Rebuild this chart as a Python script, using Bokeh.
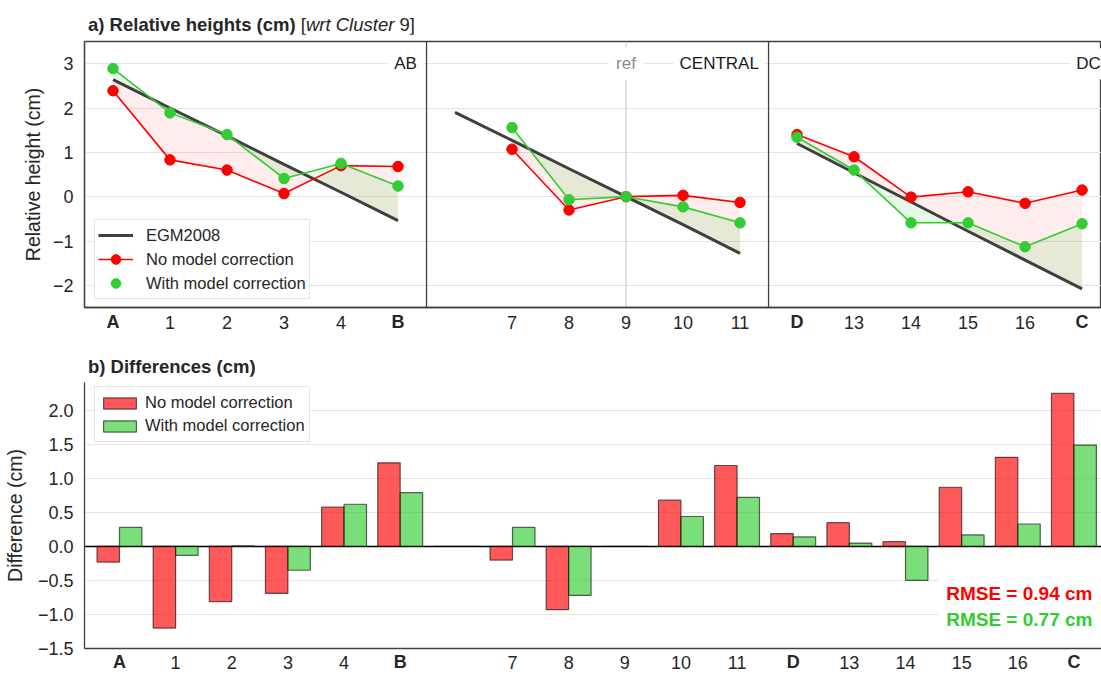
from bokeh.plotting import figure
from bokeh.models import Range1d, FixedTicker, Label, Span, Legend, LegendItem, LinearAxis, Div
from bokeh.layouts import column
from bokeh.embed import file_html
from bokeh.resources import INLINE

FONT = "Liberation Sans"
TXT = "#262626"
RED = "#ff0000"
GREEN = "#32cd32"
EGM_COL = "#3f3f3f"
SPINE = "#404040"
GRID = "#e5e5e5"

# ---------------- data ----------------
tick_labels = ["A", "1", "2", "3", "4", "B", "", "7", "8", "9", "10", "11",
               "D", "13", "14", "15", "16", "C"]

# section AB
ab_x = [0, 1, 2, 3, 4, 5]
egm_ab = [2.64, 2.00, 1.37, 0.73, 0.10, -0.54]
red_ab = [2.39, 0.83, 0.60, 0.07, 0.70, 0.68]
green_ab = [2.89, 1.89, 1.40, 0.41, 0.75, 0.24]

# section CENTRAL
central_egm_x = [6, 7, 8, 9, 10, 11]
egm_central = [1.90, 1.27, 0.63, 0.00, -0.63, -1.28]
central_x = [7, 8, 9, 10, 11]
red_central = [1.07, -0.30, 0.00, 0.03, -0.13]
green_central = [1.56, -0.07, 0.00, -0.23, -0.59]

# section DC
dc_x = [12, 13, 14, 15, 16, 17]
egm_dc = [1.20, 0.54, -0.12, -0.78, -1.43, -2.08]
red_dc = [1.40, 0.90, -0.01, 0.11, -0.15, 0.15]
green_dc = [1.34, 0.60, -0.59, -0.59, -1.13, -0.61]

section_names = ["AB", "CENTRAL", "DC"]
section_ends = [5.5, 11.5, 17.5]
ref_slot = 9

# differences
diff_no_corr = [-0.23, -1.20, -0.81, -0.69, 0.58, 1.23, 0.00, -0.20, -0.93, 0.00,
                0.68, 1.19, 0.19, 0.35, 0.07, 0.87, 1.31, 2.25]
diff_with_corr = [0.28, -0.13, 0.01, -0.35, 0.62, 0.79, 0.00, 0.28, -0.72, 0.00,
                  0.44, 0.72, 0.14, 0.05, -0.50, 0.17, 0.33, 1.49]
rmse_no_corr = 0.94
rmse_with_corr = 0.77

top_yticks = [-2, -1, 0, 1, 2, 3]
bot_yticks = [-1.5, -1.0, -0.5, 0.0, 0.5, 1.0, 1.5, 2.0]

# ---------------- layout constants ----------------
W = 1101
LEFT = 83
FRAME_W = W - LEFT
LABEL_EXTENT = 20  # approx. height of an 18px tick label row


def minus(v, fmt):
    return (fmt % v).replace("-", "\u2212")


def style_common(p):
    p.background_fill_color = "white"
    p.border_fill_color = "white"
    p.xgrid.grid_line_color = None
    p.ygrid.grid_line_color = GRID
    p.ygrid.grid_line_width = 1.2
    for ax in (p.xaxis[0], p.yaxis[0]):
        ax.major_tick_line_color = None
        ax.minor_tick_line_color = None
        ax.major_tick_out = 0
        ax.major_tick_in = 0
        ax.minor_tick_out = 0
        ax.minor_tick_in = 0
        ax.major_label_text_font = FONT
        ax.major_label_text_font_size = "18px"
        ax.major_label_text_color = TXT
        ax.axis_label_text_font = FONT
        ax.axis_label_text_font_size = "19.5px"
        ax.axis_label_text_font_style = "normal"
        ax.axis_label_text_color = TXT
        ax.axis_line_color = SPINE
        ax.axis_line_width = 1.3
    p.yaxis[0].major_label_standoff = 11


def x_axis_labels(p, standoff):
    numeric = {i: lab for i, lab in enumerate(tick_labels) if lab and not lab.isalpha()}
    letters = {i: lab for i, lab in enumerate(tick_labels) if lab.isalpha()}
    p.xaxis[0].ticker = FixedTicker(ticks=list(numeric.keys()))
    p.xaxis[0].major_label_overrides = numeric
    p.xaxis[0].major_label_standoff = standoff
    # second (bold) axis for the end-point letters, pulled back onto the same row
    bold_axis = LinearAxis(ticker=FixedTicker(ticks=list(letters.keys())),
                           major_label_overrides=letters, axis_line_color=None,
                           major_tick_line_color=None, minor_tick_line_color=None,
                           major_tick_out=0, major_tick_in=0, minor_tick_out=0, minor_tick_in=0,
                           major_label_standoff=standoff - (standoff + LABEL_EXTENT),
                           major_label_text_font=FONT,
                           major_label_text_font_size="18px", major_label_text_font_style="bold",
                           major_label_text_color=TXT)
    p.add_layout(bold_axis, "below")


def title_div(html, height, pad_top):
    return Div(text=('<div style="font-family:\'Liberation Sans\',Arial,sans-serif;'
                     'font-size:18.5px;line-height:18.5px;color:#262626;white-space:nowrap;'
                     'padding-left:88px;padding-top:%dpx;">%s</div>' % (pad_top, html)),
               width=W, height=height, margin=0)


# ================= top panel =================
div_a = title_div('<b>a) Relative heights (cm)</b> [<i>wrt Cluster</i> 9]', 34, 16)

top = figure(width=W, height=306, x_range=Range1d(-0.5, -0.5 + FRAME_W / 57.06),
             y_range=Range1d(-2.5, 3.5), output_backend="svg", toolbar_location=None,
             min_border_left=LEFT, min_border_right=0, min_border_top=7, min_border_bottom=33,
             margin=0)
style_common(top)
top.outline_line_color = SPINE
top.outline_line_width = 1.3
top.yaxis[0].ticker = FixedTicker(ticks=top_yticks)
top.yaxis[0].major_label_overrides = {v: minus(v, "%d") for v in top_yticks}
top.yaxis[0].axis_label = "Relative height (cm)"
top.yaxis[0].axis_label_standoff = 6
x_axis_labels(top, 8)

top.add_layout(Span(location=ref_slot, dimension="height", line_color="#c4c4c4", line_width=1,
                    level="underlay"))

sections = [
    (ab_x, egm_ab, ab_x, red_ab, green_ab),
    (central_egm_x, egm_central, central_x, red_central, green_central),
    (dc_x, egm_dc, dc_x, red_dc, green_dc),
]

egm_r = red_l = red_s = green_s = None
for ex, ev, ox, rv, gv in sections:
    lookup = dict(zip(ex, ev))
    ev_at_obs = [lookup[x] for x in ox]
    top.varea(x=ox, y1=ev_at_obs, y2=rv, fill_color=RED, fill_alpha=0.07)
    top.varea(x=ox, y1=ev_at_obs, y2=gv, fill_color=GREEN, fill_alpha=0.12)
    egm_r = top.line(ex, ev, line_color=EGM_COL, line_width=3)
    red_l = top.line(ox, rv, line_color=RED, line_width=1.6)
    red_s = top.scatter(ox, rv, size=10.5, fill_color=RED, line_color=RED)
    top.line(ox, gv, line_color=GREEN, line_width=1.6)
    green_s = top.scatter(ox, gv, size=10.5, fill_color=GREEN, line_color=GREEN)

for name, end in zip(section_names, section_ends):
    if end < 17:
        top.add_layout(Span(location=end, dimension="height", line_color=SPINE, line_width=1.3))
    top.add_layout(Label(x=end - 0.17, y=3, x_offset=6, text=name, text_align="right",
                         text_baseline="middle", text_font=FONT, text_font_size="17px",
                         text_color="#1a1a1a", background_fill_color="white", padding=6))
top.add_layout(Label(x=ref_slot, y=3, text="ref", text_align="center", text_baseline="middle",
                     text_font=FONT, text_font_size="17px", text_color="#8c8c8c",
                     background_fill_color="white", padding=7))

leg_top = Legend(items=[
    LegendItem(label="EGM2008", renderers=[egm_r]),
    LegendItem(label="No model correction", renderers=[red_l, red_s]),
    LegendItem(label="With model correction", renderers=[green_s]),
], location=(10, 8))
leg_top.glyph_width = 35
leg_top.glyph_height = 24
leg_top.label_height = 24
leg_top.spacing = 0
leg_top.padding = 3
leg_top.label_standoff = 13
leg_top.label_text_font = FONT
leg_top.label_text_font_size = "16.5px"
leg_top.label_text_color = TXT
leg_top.border_line_color = "#cccccc"
leg_top.border_line_width = 1
leg_top.background_fill_alpha = 0.85
top.add_layout(leg_top)

# ================= bottom panel =================
div_b = title_div('<b>b) Differences (cm)</b>', 36, 18)

bx0 = -0.623
bot = figure(width=W, height=299, x_range=Range1d(bx0, bx0 + FRAME_W / 56.2),
             y_range=Range1d(-1.5, 2.41), output_backend="svg", toolbar_location=None,
             min_border_left=LEFT, min_border_right=0, min_border_top=6, min_border_bottom=27,
             margin=0)
style_common(bot)
bot.outline_line_color = None
bot.yaxis[0].ticker = FixedTicker(ticks=bot_yticks)
bot.yaxis[0].major_label_overrides = {v: minus(v, "%.1f") for v in bot_yticks}
bot.yaxis[0].axis_label = "Difference (cm)"
bot.yaxis[0].axis_label_standoff = 9
x_axis_labels(bot, 7)

bot.add_layout(Span(location=0, dimension="width", line_color="black", line_width=1.4,
                    level="underlay"))

slots = list(range(len(tick_labels)))
b_red = bot.vbar(x=[s - 0.2 for s in slots], top=diff_no_corr, bottom=0, width=0.4,
                 fill_color=RED, fill_alpha=0.65, line_color="black", line_alpha=0.6,
                 line_width=1.2)
b_green = bot.vbar(x=[s + 0.2 for s in slots], top=diff_with_corr, bottom=0, width=0.4,
                   fill_color=GREEN, fill_alpha=0.65, line_color="black", line_alpha=0.6,
                   line_width=1.2)

bot.add_layout(Label(x=17.33, y=-0.695, x_offset=8, text="RMSE = %.2f cm" % rmse_no_corr,
                     text_align="right", text_baseline="middle", text_font=FONT,
                     text_font_size="19px", text_font_style="bold", text_color=RED,
                     background_fill_color="white", padding=8))
bot.add_layout(Label(x=17.33, y=-1.075, x_offset=8, text="RMSE = %.2f cm" % rmse_with_corr,
                     text_align="right", text_baseline="middle", text_font=FONT,
                     text_font_size="19px", text_font_style="bold", text_color=GREEN,
                     background_fill_color="white", padding=8))

leg_bot = Legend(items=[
    LegendItem(label="No model correction", renderers=[b_red]),
    LegendItem(label="With model correction", renderers=[b_green]),
], location=(10, 266 - 6 - 54))
leg_bot.glyph_width = 41
leg_bot.glyph_height = 14
leg_bot.label_height = 23
leg_bot.spacing = 0
leg_bot.padding = 4
leg_bot.label_standoff = 5
leg_bot.label_text_font = FONT
leg_bot.label_text_font_size = "16.5px"
leg_bot.label_text_color = TXT
leg_bot.border_line_color = "#cccccc"
leg_bot.border_line_width = 1
leg_bot.background_fill_alpha = 0.85
bot.add_layout(leg_bot)

layout = column(div_a, top, div_b, bot, spacing=0)
open("out.html", "w").write(file_html(layout, INLINE))
